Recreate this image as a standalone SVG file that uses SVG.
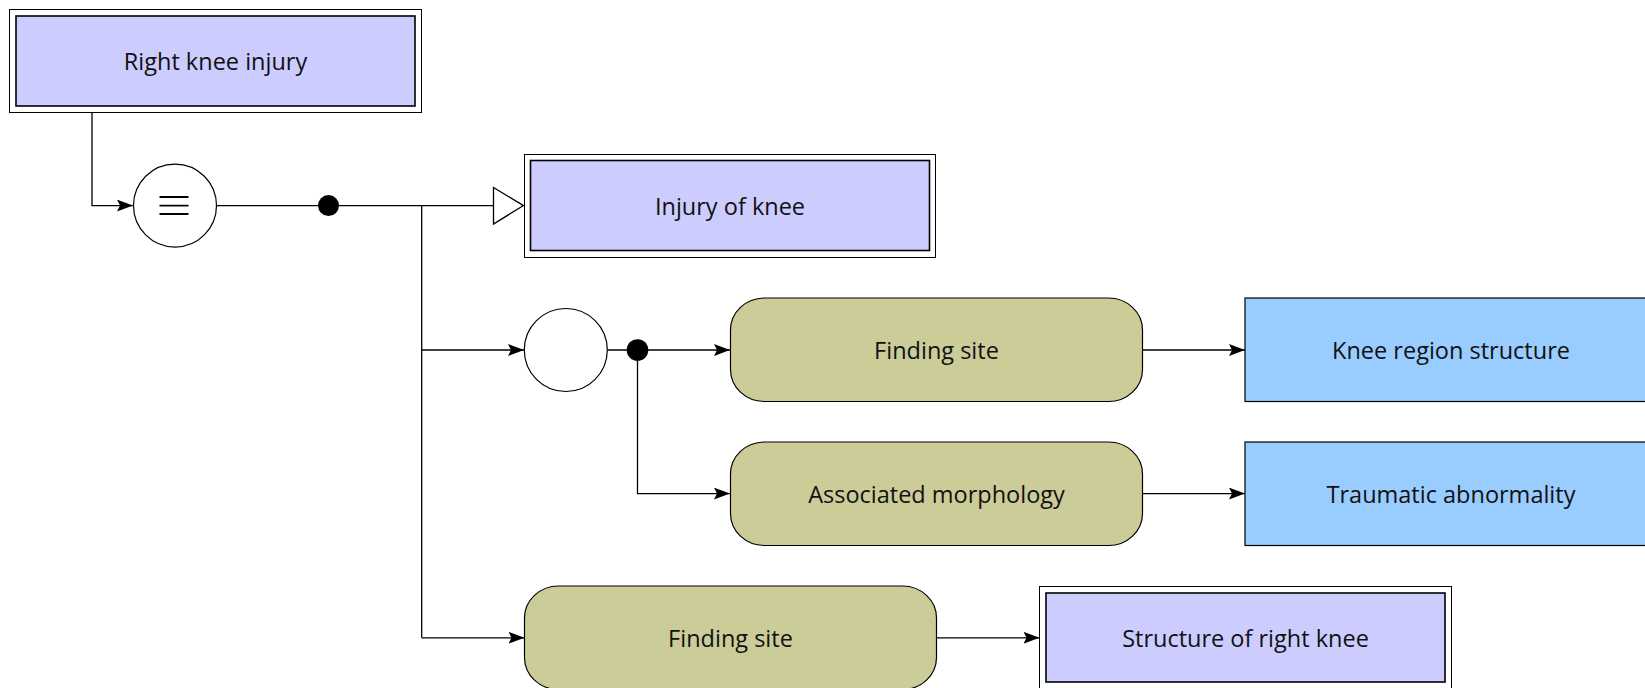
<svg xmlns="http://www.w3.org/2000/svg" width="1645" height="688" viewBox="0 0 1645 688">
<defs>
<style>
.outer{fill:#fff;stroke:#000;stroke-width:1}
.inner{fill:#ccccff;stroke:#000;stroke-width:1.6}
.attr{fill:#cccc99;stroke:#000;stroke-width:1.2}
.val{fill:#99ccff;stroke:#000;stroke-width:1.2}
.lbl{font-family:"Open Sans","Noto Sans",sans-serif;font-size:23.5px;fill:#111;text-anchor:middle}
.ln{fill:none;stroke:#000;stroke-width:1.3}
.circ{fill:#fff;stroke:#000;stroke-width:1.2}
</style>
<marker id="arr" viewBox="0 0 16 12" markerWidth="16" markerHeight="12" refX="16" refY="6" orient="auto" markerUnits="userSpaceOnUse">
<path d="M0,0 L16,6 L0,12 L3,6 Z" fill="#000"/>
</marker>
</defs>
<g id="connectors">
<polyline class="ln" points="92,113 92,205.6 133,205.6" marker-end="url(#arr)"/>
<line class="ln" x1="216" y1="205.6" x2="493.5" y2="205.6"/>
<polygon points="493.5,187.5 523.5,205.6 493.5,224" fill="#fff" stroke="#000" stroke-width="1.3"/>
<circle cx="328.5" cy="205.6" r="10.5" fill="#000"/>
<line class="ln" x1="421.7" y1="205.6" x2="421.7" y2="637.8"/>
<line class="ln" x1="421.7" y1="350" x2="524" y2="350" marker-end="url(#arr)"/>
<line class="ln" x1="607" y1="350" x2="730" y2="350" marker-end="url(#arr)"/>
<circle cx="637.5" cy="350" r="10.8" fill="#000"/>
<polyline class="ln" points="637.5,350 637.5,493.6 730,493.6" marker-end="url(#arr)"/>
<line class="ln" x1="1142.5" y1="350" x2="1245" y2="350" marker-end="url(#arr)"/>
<line class="ln" x1="1142.5" y1="493.6" x2="1245" y2="493.6" marker-end="url(#arr)"/>
<line class="ln" x1="421.7" y1="637.8" x2="524.5" y2="637.8" marker-end="url(#arr)"/>
<line class="ln" x1="936.5" y1="637.8" x2="1039.5" y2="637.8" marker-end="url(#arr)"/>
</g>
<g id="n-right-knee-injury">
<rect class="outer" x="9.5" y="9.5" width="412" height="103"/>
<rect class="inner" x="16" y="16" width="399" height="90"/>
<text class="lbl" x="215.5" y="70">Right knee injury</text>
</g>
<g id="n-equiv">
<circle class="circ" cx="175" cy="205.6" r="41.5"/>
<path d="M159.5,197 H188.5 M159.5,205.6 H188.5 M159.5,214 H188.5" stroke="#000" stroke-width="1.8"/>
</g>
<g id="n-injury-of-knee">
<rect class="outer" x="524.5" y="154.5" width="411" height="103"/>
<rect class="inner" x="530.5" y="160.5" width="399" height="90"/>
<text class="lbl" x="730" y="214.5">Injury of knee</text>
</g>
<g id="n-group">
<circle class="circ" cx="565.8" cy="350" r="41.5"/>
</g>
<g id="n-finding-site-1">
<rect class="attr" x="730.5" y="298" width="412" height="103.5" rx="34" ry="32"/>
<text class="lbl" x="936.5" y="359">Finding site</text>
</g>
<g id="n-knee-region-structure">
<rect class="val" x="1245" y="298" width="412" height="103.5"/>
<text class="lbl" x="1451" y="359">Knee region structure</text>
</g>
<g id="n-associated-morphology">
<rect class="attr" x="730.5" y="442" width="412" height="103.5" rx="34" ry="32"/>
<text class="lbl" x="936.5" y="502.5">Associated morphology</text>
</g>
<g id="n-traumatic-abnormality">
<rect class="val" x="1245" y="442" width="412" height="103.5"/>
<text class="lbl" x="1451" y="502.5">Traumatic abnormality</text>
</g>
<g id="n-finding-site-2">
<rect class="attr" x="524.5" y="586" width="412" height="103.5" rx="34" ry="32"/>
<text class="lbl" x="730.5" y="646.5">Finding site</text>
</g>
<g id="n-structure-of-right-knee">
<rect class="outer" x="1039.5" y="586.5" width="412" height="103"/>
<rect class="inner" x="1046" y="593" width="399" height="89"/>
<text class="lbl" x="1245.5" y="646.5">Structure of right knee</text>
</g>
</svg>
